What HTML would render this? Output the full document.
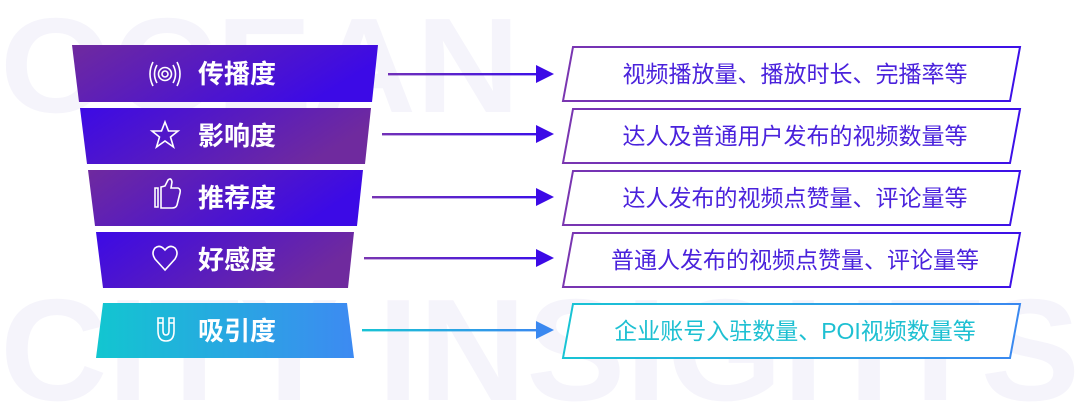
<!DOCTYPE html>
<html><head><meta charset="utf-8"><style>
html,body{margin:0;padding:0;background:#fff;width:1080px;height:405px;overflow:hidden;}
svg{display:block;}
text{font-family:"Liberation Sans","Noto Sans CJK SC",sans-serif;}
</style></head><body>
<svg width="1080" height="405" viewBox="0 0 1080 405" xmlns="http://www.w3.org/2000/svg">
<defs>
<clipPath id="clip"><rect x="0" y="0" width="1080" height="405"/></clipPath>
<linearGradient id="pb" x1="0" y1="0" x2="1" y2="0.3"><stop offset="0" stop-color="#6f2a9e"/><stop offset="1" stop-color="#3c0ae6"/></linearGradient>
<linearGradient id="bp" x1="0" y1="0" x2="1" y2="0.3"><stop offset="0" stop-color="#3c0ae6"/><stop offset="1" stop-color="#6f2a9e"/></linearGradient>
<linearGradient id="cy" x1="0" y1="0" x2="1" y2="0"><stop offset="0" stop-color="#12c6d0"/><stop offset="1" stop-color="#3d8af2"/></linearGradient>
<linearGradient id="ln" x1="0" y1="0" x2="1" y2="0"><stop offset="0" stop-color="#7a36b0"/><stop offset="1" stop-color="#3c10e8"/></linearGradient>
<linearGradient id="lc" x1="0" y1="0" x2="1" y2="0"><stop offset="0" stop-color="#18c4d4"/><stop offset="1" stop-color="#3a88f0"/></linearGradient>
<linearGradient id="ul" gradientUnits="userSpaceOnUse" x1="360" y1="0" x2="540" y2="0"><stop offset="0" stop-color="#7a36b0"/><stop offset="1" stop-color="#3c10e8"/></linearGradient>
<linearGradient id="uc" gradientUnits="userSpaceOnUse" x1="360" y1="0" x2="540" y2="0"><stop offset="0" stop-color="#18c4d4"/><stop offset="1" stop-color="#3a88f0"/></linearGradient>
</defs>
<g fill="#f5f4fb" font-weight="bold" clip-path="url(#clip)">
<text x="0" y="112" font-size="135" textLength="520" lengthAdjust="spacingAndGlyphs">OCEAN</text>
<text x="0" y="400" font-size="145" textLength="1080" lengthAdjust="spacingAndGlyphs">CITY INSIGHTS</text>
</g>

<polygon points="72,45 378,45 372,102 79,102" fill="url(#pb)"/>
<polygon points="80,108 371,108 365,164 87,164" fill="url(#bp)"/>
<polygon points="88,170 363,170 357,226 95,226" fill="url(#pb)"/>
<polygon points="96,232 354,232 348,288 103,288" fill="url(#bp)"/>
<polygon points="103,303 347,303 354,358 96,358" fill="url(#cy)"/>

<g fill="#fff" font-size="26" font-weight="bold">
<text x="198" y="83">传播度</text>
<text x="198" y="145">影响度</text>
<text x="198" y="207">推荐度</text>
<text x="198" y="269">好感度</text>
<text x="198" y="340">吸引度</text>
</g>
<g fill="none" stroke="#fff" stroke-width="1.6">
<circle cx="165" cy="74" r="3"/><circle cx="165" cy="74" r="6.5"/>
<path d="M157 65 Q152 74 157 83 M173 65 Q178 74 173 83 M153 62 Q147 74 153 86 M177 62 Q183 74 177 86"/>
<path d="M165 122 L168.5 131 L178 131 L170.5 137 L173.5 147 L165 141 L156.5 147 L159.5 137 L152 131 L161.5 131 Z"/>
<path d="M155 188 L158 188 L158 207 L155 207 Z M161 187 L165 186 L168 180 Q171 177 172 182 L171 188 L178 188 Q181 189 180 193 L177 205 Q176 208 172 208 L161 208 Z"/>
<path d="M165 270 L155 259 Q151 253 155 248 Q160 244 165 250 Q170 244 175 248 Q179 253 175 259 Z"/>
<path d="M158 318 L158 331 Q158 341 166 341 Q174 341 174 331 L174 318 L169 318 L169 331 Q169 335 166 335 Q163 335 163 331 L163 318 Z M158 323 L163 323 M169 323 L174 323"/>
</g>

<g>
<rect x="388" y="73" width="150" height="2.4" fill="url(#ul)"/>
<rect x="382" y="133" width="156" height="2.4" fill="url(#ul)"/>
<rect x="372" y="196" width="166" height="2.4" fill="url(#ul)"/>
<rect x="364" y="257" width="174" height="2.4" fill="url(#ul)"/>
<rect x="362" y="329" width="176" height="2.4" fill="url(#uc)"/>
</g>
<g fill="#3c0ae6">
<polygon points="536,65 554,74 536,83"/>
<polygon points="536,125 554,134 536,143"/>
<polygon points="536,188 554,197 536,206"/>
<polygon points="536,249 554,258 536,267"/>
</g>
<polygon points="536,321 554,330 536,339" fill="#3a88f0"/>

<g fill="#fff" stroke-width="2">
<polygon points="573,47 1020,47 1010,101 563,101" stroke="url(#ln)"/>
<polygon points="573,109 1020,109 1010,163 563,163" stroke="url(#ln)"/>
<polygon points="573,171 1020,171 1010,225 563,225" stroke="url(#ln)"/>
<polygon points="573,233 1020,233 1010,287 563,287" stroke="url(#ln)"/>
<polygon points="573,304 1020,304 1010,358 563,358" stroke="url(#lc)"/>
</g>
<g fill="#4a22dc" font-size="23" text-anchor="middle">
<text x="795" y="82">视频播放量、播放时长、完播率等</text>
<text x="795" y="144">达人及普通用户发布的视频数量等</text>
<text x="795" y="206">达人发布的视频点赞量、评论量等</text>
<text x="795" y="268">普通人发布的视频点赞量、评论量等</text>
<text x="795" y="339" fill="#1ec0d2">企业账号入驻数量、POI视频数量等</text>
</g>
</svg>
</body></html>
